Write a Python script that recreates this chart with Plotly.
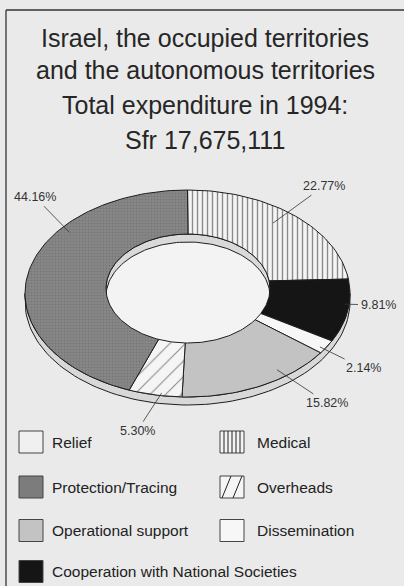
import numpy as np
import plotly.graph_objects as go

# ---------------- data ----------------
categories = ["Relief", "Medical", "Protection/Tracing", "Overheads",
              "Operational support", "Dissemination",
              "Cooperation with National Societies"]
shares = [0.0, 22.77, 44.16, 5.30, 15.82, 2.14, 9.81]          # percent of total
pie_order = ["Medical", "Cooperation with National Societies", "Dissemination",
             "Operational support", "Overheads", "Protection/Tracing"]  # clockwise from 12 o'clock
title_lines = ["Israel, the occupied territories",
               "and the autonomous territories",
               "Total expenditure in 1994:",
               "Sfr 17,675,111"]

# ---------------- styles / layout ----------------
FONT = "Liberation Sans, Arial, Helvetica, sans-serif"
PAPER = "#eaeaea"
INK = "#1e1e1e"
STYLE = {
    "Relief": dict(fill="#f0f0f0", pattern=None),
    "Medical": dict(fill="#f4f4f4", pattern=dict(shape="|", size=5, solidity=0.28, fgcolor="#222", bgcolor="#f4f4f4")),
    "Protection/Tracing": dict(fill="#7c7c7c", pattern=dict(shape=".", size=3, solidity=0.35, fgcolor="#656565", bgcolor="#888888")),
    "Overheads": dict(fill="#f5f5f5", pattern=dict(shape="/", size=11, solidity=0.1, fgcolor="#222", bgcolor="#f5f5f5")),
    "Operational support": dict(fill="#c3c3c3", pattern=None),
    "Dissemination": dict(fill="#f7f7f7", pattern=None),
    "Cooperation with National Societies": dict(fill="#151515", pattern=None),
}
OUT = dict(cx=187.5, cy=293.5, a=162.5, b=103.5)
INN = dict(cx=188.0, cy=288.5, a=82.0, b=54.5)
DEPTH = 8
# label placement: (fraction through slice, radius ratio, text x, text y)
LABEL_POS = {
    "Medical": (0.46, 0.86, 324, 186),
    "Cooperation with National Societies": (0.40, 0.97, 378, 305),
    "Dissemination": (0.66, 0.965, 363, 368),
    "Operational support": (0.32, 0.92, 327, 403),
    "Overheads": (0.39, 0.974, 137, 431),
    "Protection/Tracing": (0.68, 0.936, 35, 197),
}


def ell(e, th_deg, dy=0.0, r=1.0):
    t = np.radians(th_deg)
    return e["cx"] + r * e["a"] * np.sin(t), e["cy"] - r * e["b"] * np.cos(t) + dy


share_of = dict(zip(categories, shares))
total = sum(share_of[c] for c in pie_order)

fig = go.Figure()

# hole interior
th = np.linspace(0, 360, 181)
hx, hy = ell(INN, th)
fig.add_trace(go.Scatter(x=hx, y=hy, fill="toself", mode="lines", line=dict(width=0),
                         fillcolor="#f3f3f3", hoverinfo="skip", showlegend=False))
# inner wall (far side of hole)
t1 = np.linspace(-90, 90, 91)
x1, y1 = ell(INN, t1)
x2, y2 = ell(INN, t1[::-1], dy=DEPTH)
fig.add_trace(go.Scatter(x=np.r_[x1, x2, x1[:1]], y=np.r_[y1, y2, y1[:1]], fill="toself", mode="lines",
                         line=dict(color=INK, width=1), fillcolor="#d9d9d9",
                         hoverinfo="skip", showlegend=False))
# outer wall (near side)
t2 = np.linspace(90, 270, 91)
x1, y1 = ell(OUT, t2)
x2, y2 = ell(OUT, t2[::-1], dy=DEPTH)
fig.add_trace(go.Scatter(x=np.r_[x1, x2, x1[:1]], y=np.r_[y1, y2, y1[:1]], fill="toself", mode="lines",
                         line=dict(color=INK, width=1), fillcolor="#d8d8d8",
                         hoverinfo="skip", showlegend=False))

# slices
cum = 0.0
spans = {}
for cat in pie_order:
    v = share_of[cat]
    s = cum / total * 360
    e = (cum + v) / total * 360
    spans[cat] = (s, e)
    cum += v
    n = max(int((e - s) / 1.5) + 2, 3)
    ts = np.linspace(s, e, n)
    ox, oy = ell(OUT, ts)
    ix, iy = ell(INN, ts[::-1])
    xs = np.r_[ox, ix, ox[:1]]
    ys = np.r_[oy, iy, oy[:1]]
    st = STYLE[cat]
    kw = {}
    if st["pattern"] is not None:
        kw["fillpattern"] = st["pattern"]
    fig.add_trace(go.Scatter(x=xs, y=ys, fill="toself", mode="lines",
                             line=dict(color=INK, width=1), fillcolor=st["fill"],
                             name=cat, hoverinfo="name", showlegend=False, **kw))

annotations = []
# percentage labels
for cat in pie_order:
    s, e = spans[cat]
    frac, rr, tx, ty = LABEL_POS[cat]
    px, py = ell(OUT, s + frac * (e - s), r=rr)
    annotations.append(dict(x=float(px), y=float(py), xref="x", yref="y",
                            ax=tx, ay=ty, axref="x", ayref="y",
                            text=f"{share_of[cat]:.2f}%", showarrow=True,
                            arrowhead=0, arrowwidth=0.8, arrowcolor="#333",
                            standoff=0, startstandoff=1,
                            font=dict(family=FONT, size=12.5, color="#333")))

# title
title_y = [37.5, 69.5, 105, 140]
for line, yy in zip(title_lines, title_y):
    annotations.append(dict(x=205, y=yy, xref="x", yref="y", text=line, showarrow=False,
                            xanchor="center", yanchor="middle",
                            font=dict(family=FONT, size=25, color="#262626")))

# frame (top and left edges visible in the reference) and two-column legend
shapes = [
    dict(type="line", x0=6, y0=10, x1=404, y1=10, xref="x", yref="y",
         line=dict(color="#333", width=1.3), layer="above"),
    dict(type="line", x0=6, y0=10, x1=6, y1=586, xref="x", yref="y",
         line=dict(color="#333", width=1.3), layer="above"),
]
col_x = [19, 220]
row_y = [442, 487, 530.5, 571.5]
BW, BH = 24, 22
for i, cat in enumerate(categories):
    cx0 = col_x[i % 2]
    cy0 = row_y[i // 2]
    x0, y0, x1b, y1b = cx0, cy0 - BH / 2, cx0 + BW, cy0 + BH / 2
    shapes.append(dict(type="rect", x0=x0, y0=y0, x1=x1b, y1=y1b, xref="x", yref="y",
                       line=dict(color="#444", width=1), fillcolor=STYLE[cat]["fill"]))
    if cat == "Medical":
        for k in range(1, 6):
            xx = x0 + k * BW / 6
            shapes.append(dict(type="line", x0=xx, x1=xx, y0=y0, y1=y1b, xref="x", yref="y",
                               line=dict(color="#222", width=1)))
    if cat == "Overheads":
        for k in range(2):
            shapes.append(dict(type="line", x0=x0 + 2 + k * 11, x1=x0 + 11 + k * 11, y0=y1b, y1=y0,
                               xref="x", yref="y", line=dict(color="#222", width=1)))
    annotations.append(dict(x=cx0 + 31 + (4 if i % 2 else 0), y=cy0, xref="x", yref="y", text=cat,
                            showarrow=False, xanchor="left", yanchor="middle",
                            font=dict(family=FONT, size=15.5, color="#222")))

fig.update_layout(
    width=404, height=586, autosize=False,
    margin=dict(l=0, r=0, t=0, b=0),
    paper_bgcolor=PAPER, plot_bgcolor=PAPER,
    xaxis=dict(range=[0, 404], visible=False, fixedrange=True),
    yaxis=dict(range=[586, 0], visible=False, fixedrange=True),
    annotations=annotations, shapes=shapes,
    showlegend=False,
)
fig.write_html("out.html", config={"displayModeBar": False},
               post_script=("document.documentElement.style.overflow='hidden';"
                            "document.body.style.margin='0px';document.body.style.overflow='hidden';"
                            "document.body.style.background='" + PAPER + "';"))
